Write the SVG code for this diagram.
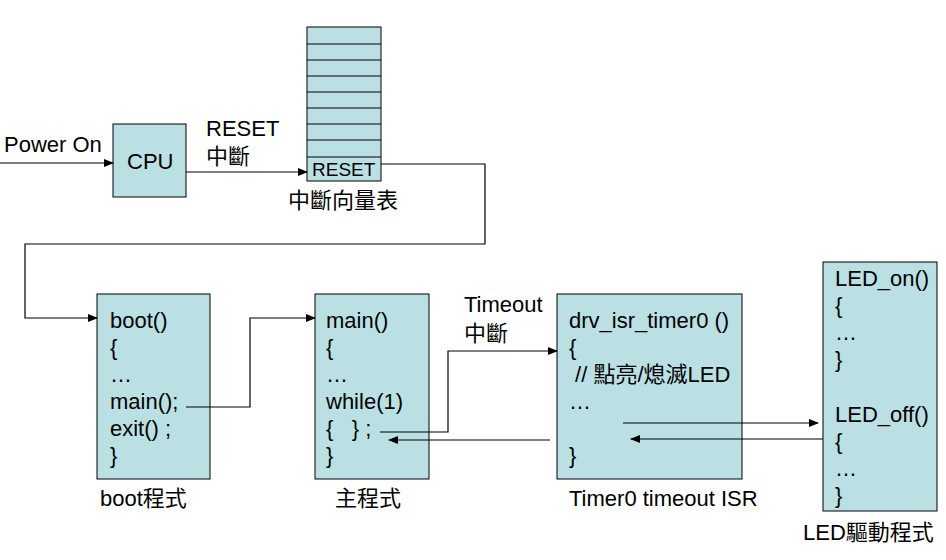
<svg xmlns="http://www.w3.org/2000/svg" width="946" height="560" viewBox="0 0 946 560">
<defs>
<marker id="ah" markerWidth="10" markerHeight="8" refX="9" refY="4" orient="auto" markerUnits="userSpaceOnUse">
<path d="M0,0 L10,4 L0,8 z" fill="#000"/>
</marker>
<style>
.box{fill:#BBE0E3;stroke:#000;stroke-width:1}
.t{font-family:"Liberation Sans","Noto Sans CJK TC",sans-serif;font-size:22px;fill:#000}
.c{fill:none;stroke:#000;stroke-width:1.2}
.row{stroke:#000;stroke-width:1}
</style>
</defs>
<rect width="946" height="560" fill="#fff"/>

<g id="labels">
<text class="t" x="4" y="152">Power On</text>
<text class="t" x="206" y="136">RESET</text>
<text class="t" x="206" y="164">中斷</text>
<text class="t" x="464" y="312">Timeout</text>
<text class="t" x="464" y="341">中斷</text>
</g>

<g id="cpu">
<rect class="box" x="113" y="124" width="73" height="73"/>
<text class="t" x="127" y="169">CPU</text>
</g>

<g id="vector-table">
<rect class="box" x="307" y="27" width="74" height="154"/>
<line class="row" x1="307" y1="44" x2="381" y2="44"/>
<line class="row" x1="307" y1="60" x2="381" y2="60"/>
<line class="row" x1="307" y1="76" x2="381" y2="76"/>
<line class="row" x1="307" y1="92" x2="381" y2="92"/>
<line class="row" x1="307" y1="108" x2="381" y2="108"/>
<line class="row" x1="307" y1="124" x2="381" y2="124"/>
<line class="row" x1="307" y1="140" x2="381" y2="140"/>
<line class="row" x1="307" y1="157" x2="381" y2="157"/>
<text class="t" x="312" y="176" style="font-size:19px">RESET</text>
<text class="t" x="288" y="208">中斷向量表</text>
</g>

<g id="boot">
<rect class="box" x="97" y="294" width="113" height="185"/>
<text class="t" x="110" y="328">boot()</text>
<text class="t" x="110" y="355">{</text>
<text class="t" x="110" y="382">…</text>
<text class="t" x="110" y="409">main();</text>
<text class="t" x="110" y="436">exit() ;</text>
<text class="t" x="110" y="463">}</text>
<text class="t" x="100" y="506">boot程式</text>
</g>

<g id="main">
<rect class="box" x="315" y="294" width="114" height="185"/>
<text class="t" x="326" y="328">main()</text>
<text class="t" x="326" y="355">{</text>
<text class="t" x="326" y="382">…</text>
<text class="t" x="326" y="409">while(1)</text>
<text class="t" x="326" y="436" xml:space="preserve">{   } ;</text>
<text class="t" x="326" y="463">}</text>
<text class="t" x="335" y="506">主程式</text>
</g>

<g id="isr">
<rect class="box" x="557" y="294" width="185" height="185"/>
<text class="t" x="569" y="328">drv_isr_timer0 ()</text>
<text class="t" x="569" y="355">{</text>
<text class="t" x="569" y="382" xml:space="preserve"> // 點亮/熄滅LED</text>
<text class="t" x="569" y="409">…</text>
<text class="t" x="569" y="463">}</text>
<text class="t" x="569" y="506">Timer0 timeout ISR</text>
</g>

<g id="led">
<rect class="box" x="823" y="262" width="114" height="249"/>
<text class="t" x="835" y="286">LED_on()</text>
<text class="t" x="835" y="313">{</text>
<text class="t" x="835" y="340">…</text>
<text class="t" x="835" y="367">}</text>
<text class="t" x="835" y="422">LED_off()</text>
<text class="t" x="835" y="449">{</text>
<text class="t" x="835" y="476">…</text>
<text class="t" x="835" y="503">}</text>
<text class="t" x="803" y="540">LED驅動程式</text>
</g>

<g id="connectors">
<path class="c" d="M0,163 H113" marker-end="url(#ah)"/>
<path class="c" d="M186,172 H307" marker-end="url(#ah)"/>
<path class="c" d="M381,164 H485 V244 H25 V318 H97" marker-end="url(#ah)"/>
<path class="c" d="M186,407 H250 V318 H315" marker-end="url(#ah)"/>
<path class="c" d="M380,432 H448 V351 H557" marker-end="url(#ah)"/>
<path class="c" d="M550,440 H389" marker-end="url(#ah)"/>
<path class="c" d="M623,423 H818" marker-end="url(#ah)"/>
<path class="c" d="M823,439 H631" marker-end="url(#ah)"/>
</g>
</svg>
